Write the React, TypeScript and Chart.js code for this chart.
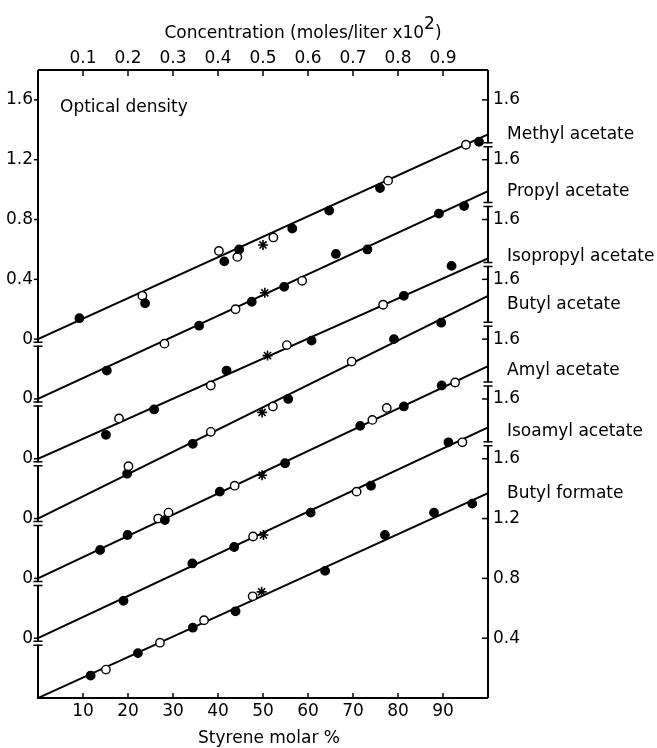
import React, { useEffect, useRef } from 'react';
import { Chart, registerables } from 'chart.js';

Chart.register(...registerables);

// ---------- data ----------
const seriesNames = ['Methyl acetate', 'Propyl acetate', 'Isopropyl acetate', 'Butyl acetate', 'Amyl acetate', 'Isoamyl acetate', 'Butyl formate'];
const seriesOffsets = [2.4, 2.0, 1.6, 1.2, 0.8, 0.4, 0];
const lineEnds = [1.37, 1.39, 1.34, 1.49, 1.42, 1.41, 1.37];
const seriesLabelAt = [1.37, 1.39, 1.35, 1.43, 1.39, 1.38, 1.37];

// kinds: f = filled circle, o = open circle, * = asterisk
const methylX = [9.2, 23.2, 23.8, 40.2, 41.4, 44.3, 44.7, 50.0, 52.3, 56.5, 64.7, 76.0, 77.8, 95.1, 98.0];
const methylY = [0.14, 0.29, 0.24, 0.59, 0.52, 0.55, 0.60, 0.63, 0.68, 0.74, 0.86, 1.01, 1.06, 1.30, 1.32];
const methylK = ['f', 'o', 'f', 'o', 'f', 'o', 'f', '*', 'o', 'f', 'f', 'f', 'o', 'o', 'f'];

const propylX = [15.3, 28.1, 35.8, 43.9, 47.5, 50.4, 54.7, 58.7, 66.2, 73.2, 89.1, 94.7];
const propylY = [0.19, 0.37, 0.49, 0.60, 0.65, 0.71, 0.75, 0.79, 0.97, 1.00, 1.24, 1.29];
const propylK = ['f', 'o', 'f', 'o', 'f', '*', 'f', 'o', 'f', 'f', 'f', 'f'];

const isopropylX = [15.1, 18.0, 25.8, 38.4, 41.9, 51.0, 55.3, 60.8, 76.7, 81.3, 91.9];
const isopropylY = [0.16, 0.27, 0.33, 0.49, 0.59, 0.69, 0.76, 0.79, 1.03, 1.09, 1.29];
const isopropylK = ['f', 'o', 'f', 'o', 'f', '*', 'o', 'f', 'o', 'f', 'f'];

const butylX = [19.8, 20.1, 34.4, 38.4, 49.8, 52.2, 55.6, 69.7, 79.1, 89.6];
const butylY = [0.30, 0.35, 0.50, 0.58, 0.71, 0.75, 0.80, 1.05, 1.20, 1.31];
const butylK = ['f', 'o', 'f', 'o', '*', 'o', 'f', 'o', 'f', 'f'];

const amylX = [13.8, 19.9, 26.7, 28.2, 29.0, 40.4, 43.7, 49.8, 54.9, 71.6, 74.3, 77.5, 81.3, 89.7, 92.7];
const amylY = [0.19, 0.29, 0.40, 0.39, 0.44, 0.58, 0.62, 0.69, 0.77, 1.02, 1.06, 1.14, 1.15, 1.29, 1.31];
const amylK = ['f', 'f', 'o', 'f', 'o', 'f', 'o', '*', 'f', 'f', 'o', 'o', 'f', 'f', 'o'];

const isoamylX = [19.0, 34.3, 43.6, 47.8, 50.1, 60.6, 70.8, 74.0, 91.2, 94.3];
const isoamylY = [0.25, 0.50, 0.61, 0.68, 0.69, 0.84, 0.98, 1.02, 1.31, 1.31];
const isoamylK = ['f', 'f', 'f', 'o', '*', 'f', 'o', 'f', 'f', 'o'];

const formateX = [11.7, 15.1, 22.2, 27.1, 34.4, 36.9, 43.9, 47.7, 49.7, 63.8, 77.1, 88.0, 96.5];
const formateY = [0.15, 0.19, 0.30, 0.37, 0.47, 0.52, 0.58, 0.68, 0.71, 0.85, 1.09, 1.24, 1.30];
const formateK = ['f', 'o', 'f', 'o', 'f', 'o', 'f', 'o', '*', 'f', 'f', 'f', 'f'];

const seriesX = [methylX, propylX, isopropylX, butylX, amylX, isoamylX, formateX];
const seriesY = [methylY, propylY, isopropylY, butylY, amylY, isoamylY, formateY];
const seriesK = [methylK, propylK, isopropylK, butylK, amylK, isoamylK, formateK];

// ticks
const bottomTicks = [10, 20, 30, 40, 50, 60, 70, 80, 90];
const bottomTickLabels = ['10', '20', '30', '40', '50', '60', '70', '80', '90'];
const topTicks = [0.1, 0.2, 0.3, 0.4, 0.5, 0.6, 0.7, 0.8, 0.9];
const topTickLabels = ['0.1', '0.2', '0.3', '0.4', '0.5', '0.6', '0.7', '0.8', '0.9'];
const yTicks = [0.4, 0.8, 1.2, 1.6, 2.0, 2.4, 2.8, 3.2, 3.6, 4.0];
const leftTickLabels = ['0', '0', '0', '0', '0', '0', '0.4', '0.8', '1.2', '1.6'];
const rightTickLabels = ['0.4', '0.8', '1.2', '1.6', '1.6', '1.6', '1.6', '1.6', '1.6', '1.6'];

const FONT = "'DejaVu Sans', 'Liberation Sans', sans-serif";

const decorPlugin = {
  id: 'decor',
  afterDraw(chart: any) {
    const ctx = chart.ctx;
    const a = chart.chartArea;
    const xs = chart.scales.x;
    const x2 = chart.scales.x2;
    const ys = chart.scales.y;
    ctx.save();
    ctx.strokeStyle = '#000';
    ctx.fillStyle = '#000';
    ctx.lineWidth = 2;
    ctx.lineCap = 'butt';
    // frame
    ctx.beginPath();
    ctx.moveTo(a.left, a.top);
    ctx.lineTo(a.right, a.top);
    ctx.moveTo(a.left, a.top);
    ctx.lineTo(a.left, a.bottom);
    ctx.lineTo(a.right, a.bottom);
    ctx.moveTo(a.right, a.top);
    ctx.lineTo(a.right, a.bottom);
    ctx.stroke();

    ctx.lineWidth = 1.5;
    // bottom ticks (inward)
    bottomTicks.forEach((v) => {
      const px = xs.getPixelForValue(v);
      ctx.beginPath(); ctx.moveTo(px, a.bottom); ctx.lineTo(px, a.bottom - 5); ctx.stroke();
    });
    // top ticks (inward)
    topTicks.forEach((v) => {
      const px = x2.getPixelForValue(v);
      ctx.beginPath(); ctx.moveTo(px, a.top); ctx.lineTo(px, a.top + 6); ctx.stroke();
    });
    // left ticks (outward), right ticks (inward)
    yTicks.forEach((v) => {
      const py = ys.getPixelForValue(v);
      ctx.beginPath(); ctx.moveTo(a.left - 4, py); ctx.lineTo(a.left, py); ctx.stroke();
      ctx.beginPath(); ctx.moveTo(a.right - 6, py); ctx.lineTo(a.right, py); ctx.stroke();
    });

    // axis breaks
    const drawBreak = (x: number, y: number) => {
      ctx.fillStyle = '#fff';
      ctx.fillRect(x - 2, y - 1.5, 4, 3);
      ctx.strokeStyle = '#000';
      ctx.lineWidth = 1.5;
      ctx.beginPath();
      ctx.moveTo(x - 4.5, y - 2); ctx.lineTo(x + 4.5, y - 2);
      ctx.moveTo(x - 4.5, y + 2); ctx.lineTo(x + 4.5, y + 2);
      ctx.stroke();
    };
    seriesOffsets.forEach((off) => {
      if (off > 0) drawBreak(a.left, ys.getPixelForValue(off) + 5);
      if (off < 2.4) drawBreak(a.right, ys.getPixelForValue(off + 1.7));
    });

    // texts
    ctx.fillStyle = '#000';
    ctx.font = `17px ${FONT}`;
    ctx.textBaseline = 'middle';
    ctx.textAlign = 'left';
    ctx.fillText('Optical density', a.left + 22, a.top + 38);

    seriesNames.forEach((name, i) => {
      ctx.fillText(name, a.right + 19, ys.getPixelForValue(seriesOffsets[i] + seriesLabelAt[i]));
    });

    // top title with superscript
    ctx.textBaseline = 'alphabetic';
    const main = 'Concentration (moles/liter x10';
    const wMain = ctx.measureText(main).width;
    const wSup = ctx.measureText('2').width;
    const wEnd = ctx.measureText(')').width;
    const total = wMain + wSup + wEnd;
    let tx = 303 - total / 2;
    const base = 38;
    ctx.fillText(main, tx, base);
    tx += wMain;
    ctx.fillText('2', tx, base - 9);
    tx += wSup;
    ctx.fillText(')', tx, base);

    // bottom title
    ctx.textAlign = 'center';
    ctx.textBaseline = 'middle';
    ctx.fillText('Styrene molar %', 269, 739);
    ctx.restore();
  },
};

export default function App() {
  const ref = useRef<HTMLCanvasElement | null>(null);
  useEffect(() => {
    if (!ref.current) return;
    const datasets: any[] = [];
    seriesNames.forEach((name, i) => {
      const off = seriesOffsets[i];
      const kinds = seriesK[i];
      datasets.push({
        label: name,
        data: seriesX[i].map((x, j) => ({ x, y: seriesY[i][j] + off })),
        showLine: false,
        order: 0,
        pointStyle: kinds.map((k) => (k === '*' ? 'star' : 'circle')),
        pointRadius: kinds.map((k) => (k === '*' ? 5 : 4.2)),
        pointBackgroundColor: kinds.map((k) => (k === 'o' ? '#fff' : '#000')),
        pointBorderColor: '#000',
        pointBorderWidth: kinds.map((k) => (k === '*' ? 1.6 : 1.4)),
      });
    });
    seriesNames.forEach((name, i) => {
      const off = seriesOffsets[i];
      datasets.push({
        label: name + ' fit',
        data: [{ x: 0, y: off }, { x: 100, y: off + lineEnds[i] }],
        showLine: true,
        order: 1,
        pointRadius: 0,
        borderColor: '#000',
        borderWidth: 2,
      });
    });

    const tickFont = { family: FONT, size: 17 };
    const chart = new Chart(ref.current, {
      type: 'scatter',
      data: { datasets },
      options: {
        animation: false,
        responsive: false,
        devicePixelRatio: 1,
        layout: { padding: 0 },
        plugins: { legend: { display: false }, tooltip: { enabled: false }, title: { display: false } },
        scales: {
          x: {
            type: 'linear', position: 'bottom', min: 0, max: 100,
            grid: { display: false, drawTicks: false }, border: { display: false },
            afterBuildTicks: (s: any) => { s.ticks = bottomTicks.map((v) => ({ value: v })); },
            afterFit: (s: any) => { s.height = 50; },
            ticks: { callback: (_v: any, i: number) => bottomTickLabels[i], padding: 3, color: '#000', font: tickFont, maxRotation: 0, autoSkip: false },
          },
          x2: {
            type: 'linear', position: 'top', min: 0, max: 1,
            grid: { display: false, drawTicks: false }, border: { display: false },
            afterBuildTicks: (s: any) => { s.ticks = topTicks.map((v) => ({ value: v })); },
            afterFit: (s: any) => { s.height = 70; },
            ticks: { callback: (_v: any, i: number) => topTickLabels[i], padding: 1, color: '#000', font: tickFont, maxRotation: 0, autoSkip: false },
          },
          y: {
            type: 'linear', position: 'left', min: 0, max: 4.2,
            grid: { display: false, drawTicks: false }, border: { display: false },
            afterBuildTicks: (s: any) => { s.ticks = yTicks.map((v) => ({ value: v })); },
            afterFit: (s: any) => { s.width = 38; },
            ticks: { callback: (_v: any, i: number) => leftTickLabels[i], padding: 5, color: '#000', font: tickFont, autoSkip: false },
          },
          y2: {
            type: 'linear', position: 'right', min: 0, max: 4.2,
            grid: { display: false, drawTicks: false }, border: { display: false },
            afterBuildTicks: (s: any) => { s.ticks = yTicks.map((v) => ({ value: v })); },
            afterFit: (s: any) => { s.width = 169; },
            ticks: { callback: (_v: any, i: number) => rightTickLabels[i], padding: 5, color: '#000', font: tickFont, autoSkip: false },
          },
        },
      } as any,
      plugins: [decorPlugin],
    });
    return () => chart.destroy();
  }, []);

  return (
    <div style={{ position: 'absolute', left: 0, top: 0, width: 657, height: 748, background: '#fff' }}>
      <canvas ref={ref} width={657} height={748} style={{ display: 'block', width: 657, height: 748 }} />
    </div>
  );
}
